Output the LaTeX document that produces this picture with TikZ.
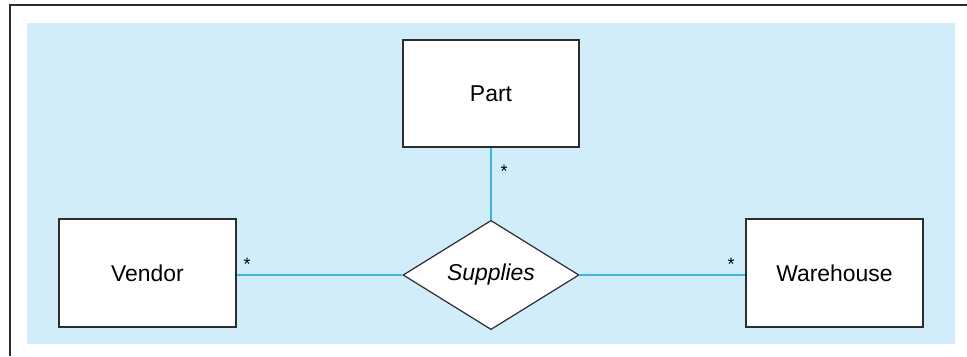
\documentclass[tikz,border=0pt]{standalone}
\usepackage{fontspec}
\setmainfont{Liberation Sans}
\usepackage{tikz}
\usetikzlibrary{shapes.geometric, positioning}
\definecolor{panelblue}{RGB}{210,237,250}
\definecolor{linkblue}{RGB}{60,182,232}
\definecolor{edgegrey}{RGB}{45,45,45}
\begin{document}
\begin{tikzpicture}[x=1bp, y=-1bp, font=\fontsize{23}{27}\selectfont,
	entity/.style={draw=edgegrey, line width=1.2bp, rectangle, fill=white, minimum width=177bp, minimum height=108bp, inner sep=0pt},
	relation/.style={draw=edgegrey, line width=1.2bp, diamond, fill=white, minimum width=176bp, minimum height=101bp, inner sep=0pt, font=\fontsize{23}{27}\selectfont\itshape},
	link/.style={draw=linkblue, line width=2bp},
	mult/.style={inner sep=0pt, font=\fontsize{18}{21}\selectfont}]
				\useasboundingbox (0, 0) rectangle (967, 356);
				\fill[panelblue] (27, 23) rectangle (955, 344);
				\draw[edgegrey, line width=2bp] (967, 5) -- (10, 5) -- (10, 356);
				
				\node[entity, minimum width=176bp, minimum height=107bp] (part) at (491, 93.5) {Part};
				\node[entity] (vendor) at (147.5, 273) {Vendor};
				\node[entity] (warehouse) at (834.5, 273) {Warehouse};
				\node[relation] (supplies) at (491, 275) {Supplies};
				
				\draw[link] (part) -- (supplies);
				\draw[link] (vendor.east |- supplies.west) -- (supplies.west);
				\draw[link] (supplies.east) -- (warehouse.west |- supplies.east);
				
				\node[mult] (partmult) at (504, 171) {*};
				\node[mult] (vendormult) at (247, 264) {*};
				\node[mult] (warehousemult) at (731, 264) {*};
			\end{tikzpicture}
\end{document}
